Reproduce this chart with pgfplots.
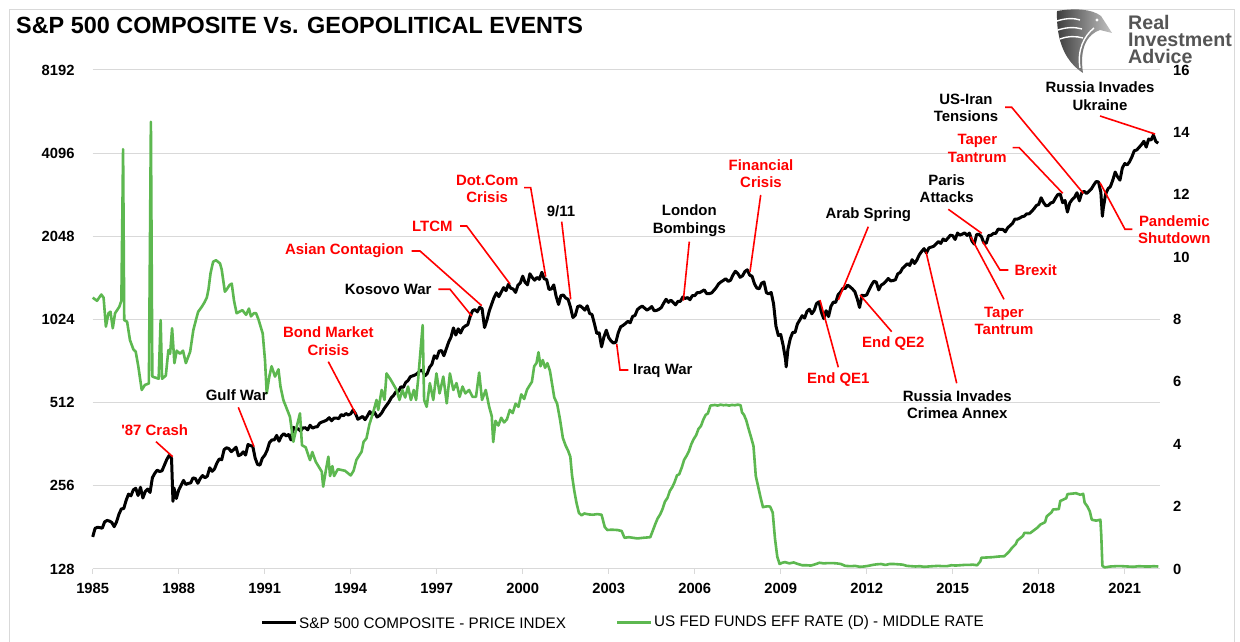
\documentclass[border=0pt]{standalone}
\usepackage{fontspec}
\setmainfont{Liberation Sans}[Ligatures=TeXOff]
\usepackage{pgfplots}
\pgfplotsset{compat=1.18}
\definecolor{grn}{RGB}{93,184,80}
\definecolor{redann}{RGB}{255,0,0}
\definecolor{gridc}{RGB}{217,217,217}
\definecolor{logoc}{RGB}{85,85,85}
\newcommand{\af}{\fontsize{15}{17.5}\selectfont\bfseries}
\newcommand{\tf}{\fontsize{14.8}{16}\selectfont\bfseries}
\begin{document}
\begin{tikzpicture}[x=1bp,y=1bp]
\path[use as bounding box] (0,0) rectangle (1240,642);
\fill[white] (0,0) rectangle (1240,642);
\draw[gridc, line width=1bp] (9.5,-5) -- (9.5,632.5) -- (1234.5,632.5) -- (1234.5,-5);

% ---------- primary axis: S&P 500 (log2) ----------
\begin{axis}[at={(92.7bp,73bp)}, anchor=south west, scale only axis,
  width=1067.3bp, height=499bp,
  xmin=1985, xmax=2022.23,
  ymode=log, log basis y=2, ymin=128, ymax=8192,
  ytick={128,256,512,1024,2048,4096,8192},
  yticklabels={128,256,512,1024,2048,4096,8192},
  xtick={1985,1988,1991,1994,1997,2000,2003,2006,2009,2012,2015,2018,2021},
  xticklabels={1985,1988,1991,1994,1997,2000,2003,2006,2009,2012,2015,2018,2021},
  ymajorgrids, grid style={gridc, line width=1bp},
  axis x line*=bottom, axis y line*=left,
  x axis line style={gridc, line width=1bp},
  y axis line style={draw=none},
  tick align=outside, major tick length=5bp,
  xtick style={gridc, line width=1bp},
  ytick style={draw=none},
  tick label style={font=\tf, text=black},
  xticklabel style={anchor=north, inner sep=0pt, yshift=-9bp},
  yticklabel style={anchor=east, inner sep=0pt, xshift=-13bp},
  clip=false]
\addplot[black, line width=3bp, line join=round] coordinates {
(1985,167.2)
(1985.083,179.6)(1985.167,181.2)(1985.25,180.7)(1985.333,179.8)(1985.417,189.6)(1985.5,191.9)(1985.583,190.9)(1985.667,188.6)(1985.75,182.1)(1985.833,189.8)(1985.917,202.2)(1986,211.3)
(1986.083,211.8)(1986.167,226.9)(1986.25,238.9)(1986.333,235.5)(1986.417,247.4)(1986.5,250.8)(1986.583,236.1)(1986.667,252.9)(1986.75,231.3)(1986.833,244.0)(1986.917,249.2)(1987,242.2)
(1987.083,274.1)(1987.167,284.2)(1987.25,291.7)(1987.333,288.4)(1987.417,290.1)(1987.5,304.0)(1987.583,318.7)(1987.667,329.8)(1987.75,321.8)(1987.8,225)(1987.833,251.8)(1987.917,230.3)(1988,247.1)
(1988.083,257.1)(1988.167,267.8)(1988.25,258.9)(1988.333,261.3)(1988.417,262.2)(1988.5,273.5)(1988.583,272.0)(1988.667,261.5)(1988.75,271.9)(1988.833,279.0)(1988.917,273.7)(1989,277.7)
(1989.083,297.5)(1989.167,288.9)(1989.25,294.9)(1989.333,309.6)(1989.417,320.5)(1989.5,318.0)(1989.583,346.1)(1989.667,351.5)(1989.75,349.2)(1989.833,340.4)(1989.917,346.0)(1990,353.4)
(1990.083,329.1)(1990.167,331.9)(1990.25,339.9)(1990.333,330.8)(1990.417,361.2)(1990.5,358.0)(1990.583,356.2)(1990.667,322.6)(1990.75,306.1)(1990.833,304.0)(1990.917,322.2)(1991,330.2)
(1991.083,343.9)(1991.167,367.1)(1991.25,375.2)(1991.333,375.3)(1991.417,389.8)(1991.5,371.2)(1991.583,387.8)(1991.667,395.4)(1991.75,387.9)(1991.833,392.5)(1991.917,375.2)(1992,417.1)
(1992.083,408.8)(1992.167,412.7)(1992.25,403.7)(1992.333,415.0)(1992.417,415.4)(1992.5,408.1)(1992.583,424.2)(1992.667,414.0)(1992.75,417.8)(1992.833,418.7)(1992.917,431.4)(1993,435.7)
(1993.083,438.8)(1993.167,443.4)(1993.25,451.7)(1993.333,440.2)(1993.417,450.2)(1993.5,450.5)(1993.583,448.1)(1993.667,463.6)(1993.75,458.9)(1993.833,467.8)(1993.917,461.8)(1994,466.5)
(1994.083,481.6)(1994.167,467.1)(1994.25,445.8)(1994.333,450.9)(1994.417,456.5)(1994.5,444.3)(1994.583,458.3)(1994.667,475.5)(1994.75,462.7)(1994.833,472.4)(1994.917,454.0)(1995,459.3)
(1995.083,470.4)(1995.167,487.4)(1995.25,500.7)(1995.333,514.7)(1995.417,533.4)(1995.5,544.8)(1995.583,562.1)(1995.667,561.9)(1995.75,584.4)(1995.833,581.5)(1995.917,605.4)(1996,615.9)
(1996.083,636.0)(1996.167,640.4)(1996.25,645.5)(1996.333,654.2)(1996.417,669.1)(1996.5,670.6)(1996.583,640.0)(1996.667,652.0)(1996.75,687.3)(1996.833,705.3)(1996.917,757.0)(1997,740.7)
(1997.083,786.2)(1997.167,790.8)(1997.25,757.1)(1997.333,801.3)(1997.417,848.3)(1997.5,885.1)(1997.583,954.3)(1997.667,899.5)(1997.75,947.3)(1997.833,914.6)(1997.917,955.4)(1998,970.4)
(1998.083,980.3)(1998.167,1049.3)(1998.25,1101.8)(1998.333,1111.8)(1998.417,1090.8)(1998.5,1133.8)(1998.583,1120.7)(1998.667,957.3)(1998.75,1017.0)(1998.833,1098.7)(1998.917,1163.6)(1999,1229.2)
(1999.083,1279.6)(1999.167,1238.3)(1999.25,1286.4)(1999.333,1335.2)(1999.417,1301.8)(1999.5,1372.7)(1999.583,1328.7)(1999.667,1320.4)(1999.75,1282.7)(1999.833,1362.9)(1999.917,1388.9)(2000,1469.3)
(2000.083,1394.5)(2000.167,1366.4)(2000.25,1498.6)(2000.333,1452.4)(2000.417,1420.6)(2000.5,1454.6)(2000.583,1430.8)(2000.667,1517.7)(2000.75,1436.5)(2000.833,1429.4)(2000.917,1315.2)(2001,1320.3)
(2001.083,1366.0)(2001.167,1239.9)(2001.25,1160.3)(2001.333,1249.5)(2001.417,1255.8)(2001.5,1224.4)(2001.583,1211.2)(2001.667,1133.6)(2001.75,1040.9)(2001.833,1059.8)(2001.917,1139.5)(2002,1148.1)
(2002.083,1130.2)(2002.167,1106.7)(2002.25,1147.4)(2002.333,1076.9)(2002.417,1067.1)(2002.5,989.8)(2002.583,911.6)(2002.667,916.1)(2002.75,815.3)(2002.833,885.8)(2002.917,936.3)(2003,879.8)
(2003.083,855.7)(2003.167,841.2)(2003.25,848.2)(2003.333,916.9)(2003.417,963.6)(2003.5,974.5)(2003.583,990.3)(2003.667,1008.0)(2003.75,996.0)(2003.833,1050.7)(2003.917,1058.2)(2004,1111.9)
(2004.083,1131.1)(2004.167,1144.9)(2004.25,1126.2)(2004.333,1107.3)(2004.417,1120.7)(2004.5,1140.8)(2004.583,1101.7)(2004.667,1104.2)(2004.75,1114.6)(2004.833,1130.2)(2004.917,1173.8)(2005,1211.9)
(2005.083,1181.3)(2005.167,1203.6)(2005.25,1180.6)(2005.333,1156.9)(2005.417,1191.5)(2005.5,1191.3)(2005.583,1234.2)(2005.667,1220.3)(2005.75,1228.8)(2005.833,1207.0)(2005.917,1249.5)(2006,1248.3)
(2006.083,1280.1)(2006.167,1280.7)(2006.25,1294.8)(2006.333,1310.6)(2006.417,1270.1)(2006.5,1270.2)(2006.583,1276.7)(2006.667,1303.8)(2006.75,1335.9)(2006.833,1377.9)(2006.917,1400.6)(2007,1418.3)
(2007.083,1438.2)(2007.167,1406.8)(2007.25,1420.9)(2007.333,1482.4)(2007.417,1530.6)(2007.5,1503.4)(2007.583,1455.3)(2007.667,1474.0)(2007.75,1526.8)(2007.833,1549.4)(2007.917,1481.1)(2008,1468.4)
(2008.083,1378.6)(2008.167,1330.6)(2008.25,1322.7)(2008.333,1385.6)(2008.417,1400.4)(2008.5,1280.0)(2008.583,1267.4)(2008.667,1282.8)(2008.75,1166.4)(2008.833,968.8)(2008.917,896.2)(2009,903.3)
(2009.083,825.9)(2009.167,735.1)(2009.19,690)(2009.25,797.9)(2009.333,872.8)(2009.417,919.1)(2009.5,919.3)(2009.583,987.5)(2009.667,1020.6)(2009.75,1057.1)(2009.833,1036.2)(2009.917,1095.6)(2010,1115.1)
(2010.083,1073.9)(2010.167,1104.5)(2010.25,1169.4)(2010.333,1186.7)(2010.417,1089.4)(2010.5,1030.7)(2010.583,1101.6)(2010.667,1049.3)(2010.75,1141.2)(2010.833,1183.3)(2010.917,1180.6)(2011,1257.6)
(2011.083,1286.1)(2011.167,1327.2)(2011.25,1325.8)(2011.333,1363.6)(2011.417,1345.2)(2011.5,1320.6)(2011.583,1292.3)(2011.667,1218.9)(2011.75,1131.4)(2011.833,1253.3)(2011.917,1247.0)(2012,1257.6)
(2012.083,1312.4)(2012.167,1365.7)(2012.25,1408.5)(2012.333,1397.9)(2012.417,1310.3)(2012.5,1362.2)(2012.583,1379.3)(2012.667,1406.6)(2012.75,1440.7)(2012.833,1412.2)(2012.917,1416.2)(2013,1426.2)
(2013.083,1498.1)(2013.167,1514.7)(2013.25,1569.2)(2013.333,1597.6)(2013.417,1630.7)(2013.5,1606.3)(2013.583,1685.7)(2013.667,1633.0)(2013.75,1681.6)(2013.833,1756.5)(2013.917,1805.8)(2014,1848.4)
(2014.083,1782.6)(2014.167,1859.5)(2014.25,1872.3)(2014.333,1884.0)(2014.417,1923.6)(2014.5,1960.2)(2014.583,1930.7)(2014.667,2003.4)(2014.75,1972.3)(2014.833,2018.1)(2014.917,2067.6)(2015,2058.9)
(2015.083,1995.0)(2015.167,2104.5)(2015.25,2067.9)(2015.333,2085.5)(2015.417,2107.4)(2015.5,2063.1)(2015.583,2103.8)(2015.667,1972.2)(2015.75,1920.0)(2015.833,2079.4)(2015.917,2080.4)(2016,2043.9)
(2016.083,1940.2)(2016.167,1932.2)(2016.25,2059.7)(2016.333,2065.3)(2016.417,2097.0)(2016.5,2098.9)(2016.583,2173.6)(2016.667,2171.0)(2016.75,2168.3)(2016.833,2126.2)(2016.917,2198.8)(2017,2238.8)
(2017.083,2278.9)(2017.167,2363.6)(2017.25,2362.7)(2017.333,2384.2)(2017.417,2411.8)(2017.5,2423.4)(2017.583,2470.3)(2017.667,2471.7)(2017.75,2519.4)(2017.833,2575.3)(2017.917,2647.6)(2018,2673.6)
(2018.083,2823.8)(2018.167,2713.8)(2018.25,2640.9)(2018.333,2648.1)(2018.417,2705.3)(2018.5,2718.4)(2018.583,2816.3)(2018.667,2901.5)(2018.75,2914.0)(2018.833,2711.7)(2018.917,2760.2)(2019,2506.9)
(2019.083,2704.1)(2019.167,2784.5)(2019.25,2834.4)(2019.333,2945.8)(2019.417,2752.1)(2019.5,2941.8)(2019.583,2980.4)(2019.667,2926.5)(2019.75,2976.7)(2019.833,3037.6)(2019.917,3141.0)(2020,3230.8)
(2020.083,3225.5)(2020.167,2954.2)(2020.22,2420)(2020.25,2584.6)(2020.333,2912.4)(2020.417,3044.3)(2020.5,3100.3)(2020.583,3271.1)(2020.667,3500.3)(2020.75,3363.0)(2020.833,3270.0)(2020.917,3621.6)(2021,3756.1)
(2021.083,3714.2)(2021.167,3811.2)(2021.25,3972.9)(2021.333,4181.2)(2021.417,4204.1)(2021.5,4297.5)(2021.583,4395.3)(2021.667,4522.7)(2021.75,4307.5)(2021.833,4605.4)(2021.917,4567.0)(2022,4766.2)
(2022.083,4515.6)(2022.167,4450)
};
\end{axis}

% ---------- secondary axis: Fed funds ----------
\begin{axis}[at={(92.7bp,73bp)}, anchor=south west, scale only axis,
  width=1067.3bp, height=499bp,
  xmin=1985, xmax=2022.23, ymin=0, ymax=16,
  ytick={0,2,4,6,8,10,12,14,16},
  yticklabels={0,2,4,6,8,10,12,14,16},
  hide x axis, axis y line*=right,
  y axis line style={draw=none}, ytick style={draw=none},
  tick label style={font=\tf, text=black},
  yticklabel style={anchor=west, inner sep=0pt, xshift=13bp},
  clip=false]
\addplot[grn, line width=2.6bp, line join=round] coordinates {
(1985.00,8.7)(1985.15,8.6)(1985.30,8.8)(1985.38,8.7)(1985.46,7.77)(1985.55,8.2)(1985.62,8.25)(1985.70,7.72)(1985.78,8.2)(1985.93,8.41)(1986.00,8.6)(1986.06,13.46)(1986.10,7.98)(1986.20,7.93)(1986.30,7.34)(1986.42,7.04)(1986.50,6.97)(1986.59,6.5)(1986.71,5.74)(1986.82,5.9)(1986.96,5.95)(1987.03,14.34)(1987.08,6.17)(1987.30,6.1)(1987.37,7.98)(1987.42,6.1)(1987.55,6.2)(1987.64,7.02)(1987.70,6.9)(1987.77,7.72)(1987.85,6.6)(1987.93,7.0)
(1988.05,6.9)(1988.15,7.0)(1988.25,6.6)(1988.40,6.97)(1988.51,7.66)(1988.62,8.05)(1988.68,8.25)(1988.80,8.4)(1988.90,8.55)(1988.98,8.7)(1989.04,8.97)(1989.11,9.48)(1989.20,9.85)(1989.30,9.9)(1989.44,9.8)(1989.50,9.6)(1989.61,8.89)(1989.68,8.97)(1989.77,9.1)(1989.85,9.15)(1989.93,8.6)
(1990.02,8.2)(1990.12,8.25)(1990.22,8.3)(1990.35,8.15)(1990.45,8.35)(1990.52,8.1)(1990.62,8.2)(1990.70,8.2)(1990.79,7.98)(1990.93,7.55)(1991.01,6.7)(1991.07,5.63)(1991.16,6.17)(1991.24,6.5)(1991.36,6.17)(1991.48,6.4)(1991.55,5.85)(1991.65,5.42)(1991.88,4.88)
(1992.00,4.08)(1992.10,4.5)(1992.23,4.99)(1992.30,3.97)(1992.43,3.9)(1992.58,3.49)(1992.66,3.75)(1992.78,3.44)(1992.99,3.12)(1993.04,2.64)(1993.14,3.2)(1993.22,3.6)(1993.28,2.98)(1993.36,3.3)(1993.42,2.98)(1993.55,3.2)(1993.80,3.15)
(1994.00,3.0)(1994.10,3.15)(1994.20,3.5)(1994.38,3.76)(1994.45,4.08)(1994.55,4.19)(1994.65,4.63)(1994.79,5.04)(1994.90,5.42)(1994.96,5.1)(1995.08,5.74)(1995.18,5.42)(1995.25,6.27)(1995.40,6.06)(1995.60,5.74)(1995.70,5.42)(1995.80,5.74)(1995.90,5.5)
(1996.00,5.85)(1996.10,5.42)(1996.20,5.74)(1996.28,5.42)(1996.35,6.06)(1996.51,7.82)(1996.56,5.42)(1996.65,5.2)(1996.76,5.96)(1996.88,5.42)(1996.99,6.27)(1997.10,5.63)(1997.23,6.17)(1997.35,5.31)(1997.46,6.27)(1997.58,5.74)(1997.69,5.96)(1997.80,5.52)(1997.90,5.85)
(1998.00,5.63)(1998.13,5.74)(1998.25,5.52)(1998.37,5.52)(1998.48,6.3)(1998.58,5.42)(1998.71,5.74)(1998.83,5.2)(1998.92,4.9)(1998.97,4.07)(1999.05,4.75)(1999.15,4.6)(1999.25,4.85)(1999.35,4.7)(1999.45,4.8)(1999.55,5.1)(1999.65,5.0)(1999.75,5.3)(1999.85,5.2)(1999.95,5.6)
(2000.05,5.45)(2000.15,5.75)(2000.25,5.9)(2000.32,6.0)(2000.40,6.5)(2000.48,6.6)(2000.55,6.95)(2000.62,6.5)(2000.70,6.7)(2000.78,6.45)(2000.86,6.6)(2000.95,6.35)(2001.03,5.9)(2001.10,5.5)(2001.20,5.3)(2001.30,4.8)(2001.40,4.2)(2001.50,3.95)(2001.58,3.8)(2001.66,3.6)(2001.72,3.0)(2001.80,2.5)(2001.88,2.1)(2001.96,1.8)
(2002.05,1.72)(2002.15,1.78)(2002.30,1.75)(2002.45,1.74)(2002.60,1.76)(2002.75,1.74)(2002.86,1.35)(2002.95,1.25)(2003.10,1.26)(2003.30,1.25)(2003.45,1.22)(2003.55,1.0)(2003.70,1.02)(2003.85,1.0)(2004.00,0.98)(2004.20,1.0)(2004.45,1.02)(2004.55,1.26)(2004.62,1.43)(2004.70,1.61)(2004.80,1.76)(2004.88,1.93)(2004.96,2.16)
(2005.05,2.28)(2005.13,2.5)(2005.22,2.63)(2005.30,2.79)(2005.38,3.0)(2005.46,3.04)(2005.55,3.26)(2005.63,3.5)(2005.71,3.62)(2005.80,3.78)(2005.88,4.0)(2005.96,4.16)(2006.05,4.29)(2006.13,4.49)(2006.22,4.59)(2006.30,4.79)(2006.38,4.94)(2006.46,4.99)(2006.55,5.24)(2006.63,5.25)
(2006.7,5.26)(2006.8,5.24)(2006.9,5.27)(2007.0,5.25)(2007.1,5.26)(2007.2,5.24)(2007.3,5.26)(2007.4,5.25)(2007.5,5.27)(2007.6,5.25)(2007.65,5.02)(2007.72,4.94)(2007.80,4.76)(2007.88,4.49)(2007.96,4.24)
(2008.05,3.94)(2008.13,2.98)(2008.22,2.61)(2008.30,2.28)(2008.38,1.98)(2008.46,2.0)(2008.55,2.01)(2008.63,2.0)(2008.72,1.81)(2008.80,0.97)(2008.88,0.39)(2008.96,0.16)
(2009.05,0.2)(2009.15,0.22)(2009.3,0.18)(2009.45,0.21)(2009.6,0.16)(2009.75,0.12)(2009.9,0.12)(2010.05,0.11)(2010.2,0.15)(2010.35,0.2)(2010.5,0.18)(2010.65,0.19)(2010.8,0.19)(2010.95,0.18)(2011.1,0.16)(2011.25,0.1)(2011.45,0.09)(2011.6,0.1)(2011.75,0.07)(2011.9,0.08)
(2012.05,0.1)(2012.2,0.13)(2012.35,0.15)(2012.5,0.16)(2012.65,0.13)(2012.8,0.16)(2012.95,0.16)(2013.1,0.15)(2013.25,0.14)(2013.4,0.1)(2013.55,0.09)(2013.7,0.08)(2013.85,0.09)(2014.0,0.07)(2014.15,0.08)(2014.3,0.09)(2014.5,0.1)(2014.65,0.09)(2014.8,0.09)(2014.95,0.12)
(2015.1,0.11)(2015.25,0.12)(2015.4,0.13)(2015.55,0.13)(2015.7,0.14)(2015.85,0.12)(2015.96,0.24)
(2016.0,0.36)(2016.2,0.37)(2016.4,0.38)(2016.6,0.40)(2016.8,0.41)(2016.96,0.55)(2017.05,0.66)(2017.2,0.8)(2017.25,0.91)(2017.45,1.06)(2017.5,1.16)(2017.7,1.15)(2017.96,1.33)(2018.05,1.42)(2018.22,1.5)(2018.28,1.69)(2018.45,1.82)(2018.5,1.91)(2018.7,1.92)(2018.75,2.18)(2018.96,2.27)
(2019.0,2.4)(2019.3,2.43)(2019.45,2.38)(2019.55,2.41)(2019.6,2.13)(2019.7,2.0)(2019.78,1.85)(2019.85,1.58)(2020.0,1.55)(2020.15,1.58)(2020.18,1.1)(2020.22,0.1)(2020.3,0.05)(2020.5,0.08)(2020.7,0.09)(2020.9,0.09)(2021.1,0.08)(2021.3,0.07)(2021.5,0.09)(2021.7,0.08)(2021.9,0.08)(2022.0,0.09)(2022.17,0.08)
};
\end{axis}

% ---------- title ----------
\node[anchor=base west, inner sep=0pt, font=\fontsize{23.5}{26}\selectfont\bfseries] at (16,608.7) {S\&P 500 COMPOSITE Vs. GEOPOLITICAL EVENTS};

% ---------- logo ----------
\shade[left color=logoc!70!black, right color=logoc!35] (1057,631) .. controls (1075,634) and (1092,633) .. (1101,626) -- (1112,609) -- (1100,612) .. controls (1088,608) and (1079,595) .. (1083,569) .. controls (1066,580) and (1056,600) .. (1057,631) -- cycle;
\draw[white, line width=1.4bp] (1057,621) .. controls (1066,624) and (1074,624) .. (1080,622);
\draw[white, line width=1.4bp] (1058,612) .. controls (1067,615) and (1075,615) .. (1082,613);
\draw[white, line width=1.4bp] (1060,603) .. controls (1068,606) and (1076,606) .. (1083,604);
\draw[white, line width=1.4bp] (1094,614) .. controls (1084,606) and (1077,592) .. (1080,574);
\fill[white] (1097,622) circle (1.6);
\node[anchor=base west, inner sep=0pt, text=logoc, font=\fontsize{19.7}{20}\selectfont\bfseries] at (1128,612.5) {Real};
\node[anchor=base west, inner sep=0pt, text=logoc, font=\fontsize{19.7}{20}\selectfont\bfseries] at (1128,595) {Investment};
\node[anchor=base west, inner sep=0pt, text=logoc, font=\fontsize{19.7}{20}\selectfont\bfseries] at (1128,578) {Advice};

% ---------- legend ----------
\draw[black, line width=3bp] (262,19) -- (296,19);
\node[anchor=west, inner sep=0pt, font=\fontsize{15.3}{17}\selectfont] at (299,19) {S\&P 500 COMPOSITE - PRICE INDEX};
\draw[grn, line width=3bp] (617,19) -- (651,19);
\node[anchor=west, inner sep=0pt, font=\fontsize{15.3}{17}\selectfont] at (654,19) {US FED FUNDS EFF RATE (D) - MIDDLE RATE};

% ---------- annotations ----------
\begin{scope}[redann, line width=1.6bp]
\draw (156,200.3) -- (172.7,185.3);
\draw (238.3,234.7) -- (254,195.3);
\draw (328.3,280.3) -- (356,227.7);
\draw (438.3,352.7) -- (450,352.7) -- (471.7,326);
\draw (411.7,391) -- (420,391) -- (481.7,336.3);
\draw (460,416) -- (466.7,416) -- (510,358);
\draw (524,454.3) -- (530.7,454.3) -- (545.7,365.3);
\draw (561.7,420.3) -- (570.7,342.7);
\draw (616.7,298) -- (620,272) -- (628.3,272);
\draw (689.3,400.3) -- (683.3,341.3);
\draw (760.7,447) -- (750,370.3);
\draw (868.3,415.3) -- (838.3,342);
\draw (838.3,274.7) -- (820,342);
\draw (891.7,310.3) -- (860,347);
\draw (956.7,258.7) -- (926,390.3);
\draw (948.3,432.7) -- (981.7,408.7);
\draw (1004,342.7) -- (970.7,405.3);
\draw (1008.3,372) -- (1000,372) -- (982.7,400.3);
\draw (1012.7,494.3) -- (1019.3,494.3) -- (1062.7,448.7);
\draw (1005,534.7) -- (1011.7,534.7) -- (1083.3,448.7);
\draw (1100,526) -- (1155,508);
\draw (1132.3,412.7) -- (1125,412.7) -- (1100,459.3);
\end{scope}

\begin{scope}[every node/.style={font=\af, align=center, inner sep=0pt}]
\node[text=redann] at (154.7,212) {'87 Crash};
\node[text=black] at (236.7,247) {Gulf War};
\node[text=redann] at (328.3,301) {Bond Market\\Crisis};
\node[text=black, anchor=east] at (431.7,352.7) {Kosovo War};
\node[text=redann, anchor=east] at (404,391) {Asian Contagion};
\node[text=redann] at (432.3,416) {LTCM};
\node[text=redann] at (487.2,453.3) {Dot.Com\\Crisis};
\node[text=black] at (561,431) {9/11};
\node[text=black, anchor=west] at (633,271.3) {Iraq War};
\node[text=black] at (689.3,421.5) {London\\Bombings};
\node[text=redann] at (761,468.5) {Financial\\Crisis};
\node[text=black] at (868.3,427.7) {Arab Spring};
\node[text=redann] at (838.3,262.7) {End QE1};
\node[text=redann] at (893.3,298) {End QE2};
\node[text=black] at (957.3,237.5) {Russia Invades\\Crimea Annex};
\node[text=black] at (946.7,453.2) {Paris\\Attacks};
\node[text=redann] at (1004,321.2) {Taper\\Tantrum};
\node[text=redann] at (1035.7,372) {Brexit};
\node[text=redann] at (977.3,493.7) {Taper\\Tantrum};
\node[text=black] at (966,534.2) {US-Iran\\Tensions};
\node[text=black] at (1100,545.8) {Russia Invades\\Ukraine};
\node[text=redann] at (1174.3,412.2) {Pandemic\\Shutdown};
\end{scope}
\end{tikzpicture}
\end{document}
